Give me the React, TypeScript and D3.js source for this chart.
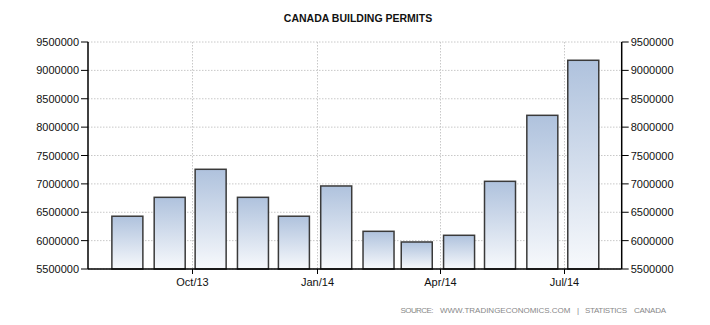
import React from "react";
import * as d3 from "d3";

const months = ["2013-08", "2013-09", "2013-10", "2013-11", "2013-12", "2014-01", "2014-02", "2014-03", "2014-04", "2014-05", "2014-06", "2014-07"];
const permits = [6430000, 6763000, 7257000, 6763000, 6430000, 6963000, 6164000, 5976000, 6094000, 7045000, 8208000, 9178000];
const yTicks = [5500000, 6000000, 6500000, 7000000, 7500000, 8000000, 8500000, 9000000, 9500000];
const xTickDates = ["2013-10-01", "2014-01-01", "2014-04-01", "2014-07-01"];
const xTickLabels = ["Oct/13", "Jan/14", "Apr/14", "Jul/14"];
const sourceWords = ["SOURCE:", "WWW.TRADINGECONOMICS.COM", "|", "STATISTICS", "CANADA"];

const W = 710, H = 325;
const left = 88, right = 621.7, top = 42, bottom = 269;
const sourceLayout = [
  { x: 400.5, w: 33 },
  { x: 440, w: 130.5 },
  { x: 577, w: 2 },
  { x: 585, w: 42 },
  { x: 634, w: 32 },
];

export default function App() {
  const parseMonth = d3.timeParse("%Y-%m");
  const parseDay = d3.timeParse("%Y-%m-%d");
  const x = d3.scaleTime()
    .domain([parseDay("2013-07-17")!, parseDay("2014-08-12")!])
    .range([left, right]);
  const y = d3.scaleLinear().domain([5500000, 9500000]).range([bottom, top]);
  const font = "'Liberation Sans', Arial, sans-serif";
  const barW = 31;
  const barOffset = 3.4;

  return (
    <svg width={W} height={H} style={{ position: "absolute", left: 0, top: 0 }}>
      <defs>
        <linearGradient id="barGrad" x1="0" y1="0" x2="0" y2="1">
          <stop offset="0%" stopColor="#afc2dd" />
          <stop offset="100%" stopColor="#f7f9fc" />
        </linearGradient>
      </defs>
      <rect x={0} y={0} width={W} height={H} fill="#fff" />
      <text x={358} y={22} textAnchor="middle" fontFamily={font} fontWeight="bold" fontSize={10.5} fill="#111">
        CANADA BUILDING PERMITS
      </text>
      {yTicks.map((t) => (
        <line key={"h" + t} x1={left} x2={right} y1={y(t)} y2={y(t)} stroke="#c8c8c8" strokeDasharray="1.5,1.5" strokeWidth={1} />
      ))}
      {xTickDates.map((d) => {
        const xx = Math.round(x(parseDay(d)!)) + 0.5;
        return <line key={"v" + d} x1={xx} x2={xx} y1={top} y2={bottom} stroke="#c8c8c8" strokeDasharray="1.5,1.5" strokeWidth={1} />;
      })}
      {months.map((m, i) => {
        const x0 = x(parseMonth(m)!) + barOffset;
        const yv = y(permits[i]);
        return (
          <rect key={m} x={x0} y={yv} width={barW} height={bottom - yv} fill="url(#barGrad)" stroke="#3a3a3a" strokeWidth={1.5} />
        );
      })}
      <line x1={left} x2={left} y1={top} y2={bottom} stroke="#000" strokeWidth={1.5} />
      <line x1={right} x2={right} y1={top} y2={bottom} stroke="#000" strokeWidth={1.5} />
      <line x1={left} x2={right} y1={bottom} y2={bottom} stroke="#000" strokeWidth={1.5} />
      {yTicks.map((t) => (
        <g key={"t" + t}>
          <line x1={left - 7} x2={left} y1={y(t)} y2={y(t)} stroke="#000" strokeWidth={1} />
          <line x1={right} x2={right + 7} y1={y(t)} y2={y(t)} stroke="#000" strokeWidth={1} />
          <text x={left - 9} y={y(t) + 4} textAnchor="end" fontFamily={font} fontSize={11} fill="#111">{t}</text>
          <text x={right + 9} y={y(t) + 4} textAnchor="start" fontFamily={font} fontSize={11} fill="#111">{t}</text>
        </g>
      ))}
      {xTickDates.map((d, i) => {
        const xx = Math.round(x(parseDay(d)!)) + 0.5;
        return (
          <g key={"x" + d}>
            <line x1={xx} x2={xx} y1={bottom} y2={bottom + 5} stroke="#000" strokeWidth={1} />
            <text x={xx} y={bottom + 17} textAnchor="middle" fontFamily={font} fontSize={11} fill="#111">{xTickLabels[i]}</text>
          </g>
        );
      })}
      <g fontFamily={font} fontSize={8} fill="#888">
        {sourceWords.map((w, i) => (
          <text key={w} x={sourceLayout[i].x} y={313} textLength={w.length > 1 ? sourceLayout[i].w : undefined}>{w}</text>
        ))}
      </g>
    </svg>
  );
}
